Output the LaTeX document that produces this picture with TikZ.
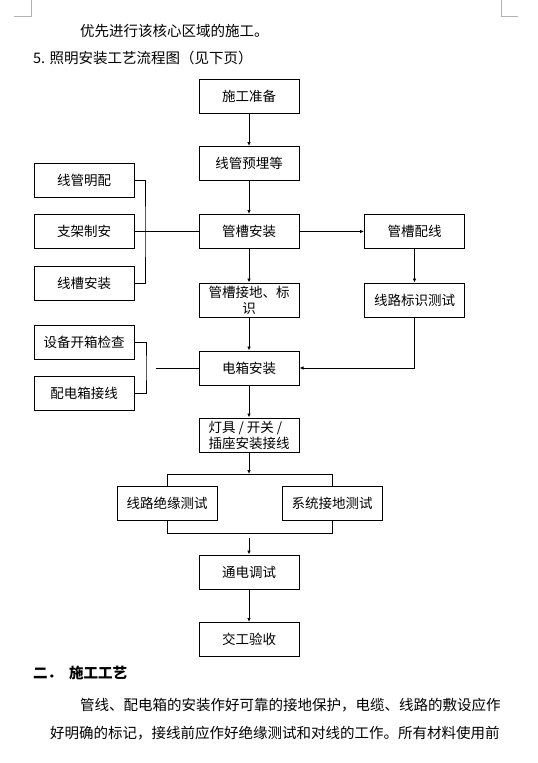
\documentclass[tikz,border=0pt]{standalone}
\usepackage{fontspec}
\setmainfont{Noto Sans CJK SC}
\usetikzlibrary{arrows.meta}

\tikzstyle{stepbox} = [draw, line width=1pt, minimum width=100pt, minimum height=34pt, inner sep=1pt, align=center, font=\fontsize{13.5}{16}\selectfont]
\tikzstyle{flow} = [line width=1pt, -{Latex[length=4pt,width=3.5pt]}]
\tikzstyle{link} = [line width=1pt]
\tikzstyle{para} = [anchor=west, inner sep=0pt, font=\fontsize{14.5}{17}\selectfont]

\begin{document}
\begin{tikzpicture}[x=1pt, y=-1pt]
\useasboundingbox (0,0) rectangle (538,763);

% page corner marks
\draw[gray!60, line width=1pt] (14,16) -- (31,16) -- (31,0);
\draw[gray!60, line width=1pt] (501,0) -- (501,16) -- (518,16);

% text above
\node[para] (l1) at (80,31) {优先进行该核心区域的施工。};
\node[para] (l2) at (33,58) {5. 照明安装工艺流程图（见下页）};

% main column
\node[stepbox] (zb) at (249,96) {施工准备};
\node[stepbox] (ym) at (249,163.5) {线管预埋等};
\node[stepbox] (gc) at (249,231.5) {管槽安装};
\node[stepbox] (jd) at (249,300) {管槽接地、标\\识};
\node[stepbox] (dx) at (249,368) {电箱安装};
\node[stepbox, align=left] (dj) at (249,435) {灯具 / 开关 /\\插座安装接线};
\node[stepbox] (td) at (249,572) {通电调试};
\node[stepbox] (ys) at (249,639.5) {交工验收};

% right column
\node[stepbox] (px) at (414.5,231.5) {管槽配线};
\node[stepbox] (bs) at (414.5,300) {线路标识测试};

% left column
\node[stepbox] (mp) at (84,180) {线管明配};
\node[stepbox] (zj) at (84,231.5) {支架制安};
\node[stepbox] (xc) at (84,283) {线槽安装};
\node[stepbox] (kx) at (84,342) {设备开箱检查};
\node[stepbox] (pj) at (84,393) {配电箱接线};

% tests
\node[stepbox] (jy) at (167,503.5) {线路绝缘测试};
\node[stepbox] (jdcs) at (332,503.5) {系统接地测试};

% connectors
\draw[flow] (zb) -- (ym);
\draw[flow] (ym) -- (gc);
\draw[flow] (gc) -- (jd);
\draw[flow] (jd) -- (dx);
\draw[flow] (dx) -- (dj);
\draw[flow] (gc) -- (px);
\draw[flow] (px) -- (bs);
\draw[flow] (bs.south) |- (dx.east);
\draw[flow] (td) -- (ys);

\coordinate (b1) at (145,231.5);
\draw[link] (mp.east) -| (b1) |- (xc.east);
\draw[link] (zj.east) -- (gc.west);

\coordinate (b2) at (146,368);
\coordinate (b2e) at (156,368);
\draw[link] (kx.east) -| (b2) |- (pj.east);
\draw[link] (b2e) -- (dx.west);

\coordinate (t1) at (249,474);
\coordinate (t3) at (249,538);
\draw[flow] (dj.south) -- (t1);
\draw[link] (jy.north) -- ++(0,-12) -| (jdcs.north);
\draw[link] (jy.south) -- ++(0,12) -| (jdcs.south);
\draw[flow] (t3) -- (td.north);

% text below
\node[para, font=\fontsize{14.5}{17}\selectfont\bfseries] (h2) at (33,673) {二．\hspace{7pt}施工工艺};
\node[para] (p1) at (80,705) {管线、配电箱的安装作好可靠的接地保护，电缆、线路的敷设应作};
\node[para] (p2) at (50,733) {好明确的标记，接线前应作好绝缘测试和对线的工作。所有材料使用前};
\end{tikzpicture}
\end{document}
